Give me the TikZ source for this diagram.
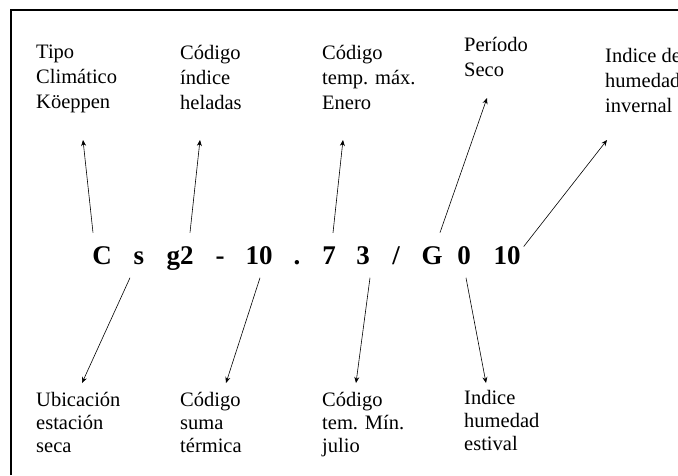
\documentclass[tikz,border=0pt]{standalone}
\usepackage{fontspec}
\setmainfont{Liberation Serif}
\usetikzlibrary{arrows.meta,calc}

\begin{document}
\begin{tikzpicture}[x=1pt,y=1pt,yscale=-1,
  lbl/.style={anchor=north west,inner sep=0,align=left,font=\fontsize{20.5}{25}\selectfont},
  lowlbl/.style={lbl,font=\fontsize{20.5}{23}\selectfont},
  code/.style={anchor=base,inner sep=0,outer ysep=13.5,font=\bfseries\fontsize{27}{27}\selectfont},
  arr/.style={-{Stealth[length=6,width=5]},line width=0.6}]
\useasboundingbox (0,0) rectangle (678,475);
\draw [line width=2] (11,475) -- (11,10) -- (678,10);
% labels above
\node [lbl] (tipo) at (36,45) {Tipo\\Climático\\Köeppen};
\node [lbl] (helada) at (180,45) {Código\\índice\\heladas};
\node [lbl] (tmax) at (322,45) {Código\\temp. máx.\\Enero};
\node [lbl] (seco) at (464,37) {Período\\Seco};
\node [lbl] (invern) at (605,48) {Indice de\\humedad\\invernal};
% labels below
\node [lowlbl] (ubic) at (36,392) {Ubicación\\estación\\seca};
\node [lowlbl] (suma) at (180,392) {Código\\suma\\térmica};
\node [lowlbl] (tmin) at (322,392) {Código\\tem. Mín.\\julio};
\node [lowlbl] (estiv) at (464,390) {Indice\\humedad\\estival};
% the code
\node [code] (cC) at (102,264) {C};
\node [code] (cs) at (139,264) {s};
\node [code] (cg) at (180,264) {g2};
\node [code] (cdash) at (220,264) {-};
\node [code] (cten) at (259,264) {10};
\node [code] (cdot) at (297,264) {.};
\node [code] (cseven) at (329,264) {7};
\node [code] (cthree) at (363,264) {3};
\node [code] (cslash) at (396,264) {/};
\node [code] (cG) at (432,264) {G};
\node [code] (czero) at (464,264) {0};
\node [code] (cwin) at (507,264) {10};
% arrows up
\draw [arr] ([xshift=-9]cC.north) -- ($(tipo.north west)+(47,95)$);
\draw [arr] ([xshift=10]cg.north) -- ($(helada.north west)+(20,95)$);
\draw [arr] ([xshift=4]cseven.north) -- ($(tmax.north west)+(21,95)$);
\draw [arr] ([xshift=8]cG.north) -- ($(seco.north west)+(23,61)$);
\draw [arr] ($(cwin.north east)+(3,14)$) -- ($(invern.north west)+(2,92)$);
% arrows down
\draw [arr] ([xshift=-9]cs.south) -- ($(ubic.north west)+(46,-9)$);
\draw [arr] ([xshift=1]cten.south) -- ($(suma.north west)+(46,-9)$);
\draw [arr] ([xshift=7]cthree.south) -- ($(tmin.north west)+(34,-9)$);
\draw [arr] ([xshift=2]czero.south) -- ($(estiv.north west)+(22,-7)$);
\end{tikzpicture}
\end{document}
